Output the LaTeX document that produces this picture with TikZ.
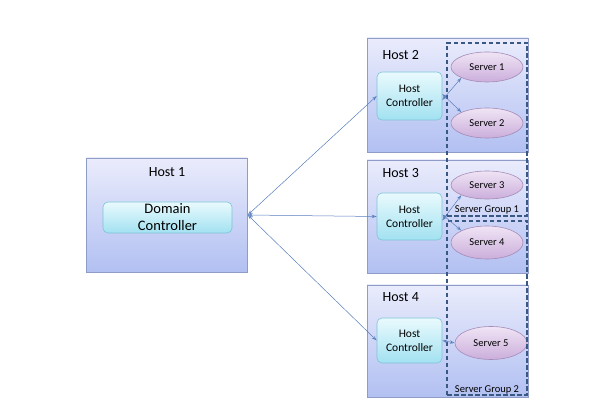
\documentclass[tikz,border=0pt]{standalone}
\usepackage{fontspec}
\setmainfont{Carlito}
\usetikzlibrary{arrows.meta}
\usetikzlibrary{positioning}
\usetikzlibrary{shapes.geometric}

\definecolor{hosttop}{HTML}{EAECFC}
\definecolor{hostbot}{HTML}{B2C0F2}
\definecolor{hostline}{HTML}{8E9CC6}
\definecolor{ctrltop}{HTML}{E9FAFD}
\definecolor{ctrlbot}{HTML}{A2E1F1}
\definecolor{ctrlline}{HTML}{7DC3D6}
\definecolor{srvtop}{HTML}{F0E4F5}
\definecolor{srvbot}{HTML}{CBAEDB}
\definecolor{srvline}{HTML}{A58CB8}
\definecolor{grpline}{HTML}{3A5884}
\definecolor{linkblue}{HTML}{5A7FBE}

\begin{document}
\begin{tikzpicture}
	[x=1pt,y=-1pt,
	 hostbox/.style={draw=hostline, line width=0.6pt, top color=hosttop, bottom color=hostbot, minimum width=161pt},
	 ctrlbox/.style={draw=ctrlline, line width=0.6pt, rounded corners=5pt, top color=ctrltop, bottom color=ctrlbot, align=center, font=\fontsize{11.5}{14}\selectfont, inner sep=0pt},
	 server/.style={ellipse, draw=srvline, line width=0.6pt, top color=srvtop, bottom color=srvbot, minimum width=72pt, font=\fontsize{10.5}{12}\selectfont, inner sep=0pt},
	 group/.style={draw=grpline, line width=1.3pt, dash pattern=on 4.5pt off 2.5pt, minimum width=80pt, inner sep=0pt},
	 title/.style={font=\fontsize{14}{16}\selectfont},
	 grouplabel/.style={font=\fontsize{10.5}{12}\selectfont, anchor=south},
	 link/.style={draw=linkblue, line width=0.5pt, {Stealth[length=5pt,width=3.5pt,open]}-{Stealth[length=5pt,width=3.5pt,open]}}]
	\useasboundingbox (0,0) rectangle (616,411);
	\fill[white] (0,0) rectangle (616,411);
	% hosts
	\node[hostbox, minimum height=114pt] (host1) at (167,215) {};
	\node[hostbox, minimum height=114pt] (host2) at (447.5,95) {};
	\node[hostbox, minimum height=113pt] (host3) at (447.5,216.5) {};
	\node[hostbox, minimum height=112pt] (host4) at (447.5,341) {};
	\node[title] (t1) at (167,172) {Host 1};
	\node[title, anchor=west] (t2) at (379,55) {Host 2};
	\node[title, anchor=west] (t3) at (379,173) {Host 3};
	\node[title, anchor=west] (t4) at (379,297) {Host 4};
	% controllers
	\node[ctrlbox, minimum width=129pt, minimum height=31pt, font=\fontsize{14.5}{17}\selectfont] (dc) at (167.5,217.5) {Domain\\Controller};
	\node[ctrlbox, minimum width=65pt, minimum height=48pt] (hc2) at (409.5,96) {Host\\Controller};
	\node[ctrlbox, minimum width=65pt, minimum height=47pt] (hc3) at (409.5,216.5) {Host\\Controller};
	\node[ctrlbox, minimum width=65pt, minimum height=45pt] (hc4) at (409.5,340.5) {Host\\Controller};
	% servers
	\node[server, minimum height=30pt] (s1) at (487,67) {Server 1};
	\node[server, minimum height=30pt] (s2) at (487,123) {Server 2};
	\node[server, minimum height=28pt] (s3) at (487,185) {Server 3};
	\node[server, minimum height=33pt] (s4) at (487,242.5) {Server 4};
	\node[server, minimum height=33pt] (s5) at (491,343) {Server 5};
	% server groups
	\node[group, minimum height=173pt] (grp1) at (487,129.5) {};
	\node[group, minimum height=174pt] (grp2) at (487,308) {};
	\node[grouplabel] (gl1) at ([yshift=-1pt]grp1.south) {Server Group 1};
	\node[grouplabel] (gl2) at ([yshift=-2pt]grp2.south) {Server Group 2};
	% links
	\draw[link] (host1.east) -- (hc2.west);
	\draw[link] (host1.east) -- (hc3.west);
	\draw[link] (host1.east) -- (hc4.west);
	\draw[link] ([yshift=-4pt]hc2.east) -- (s1.south west);
	\draw[link] ([yshift=2pt]hc2.east) -- (s2.north west);
	\draw[link] ([yshift=-4pt]hc3.east) -- (s3.south west);
	\draw[link] ([yshift=2pt]hc3.east) -- (s4.north west);
	\draw[link] (hc4.east) -- (s5.west);
\end{tikzpicture}
\end{document}
